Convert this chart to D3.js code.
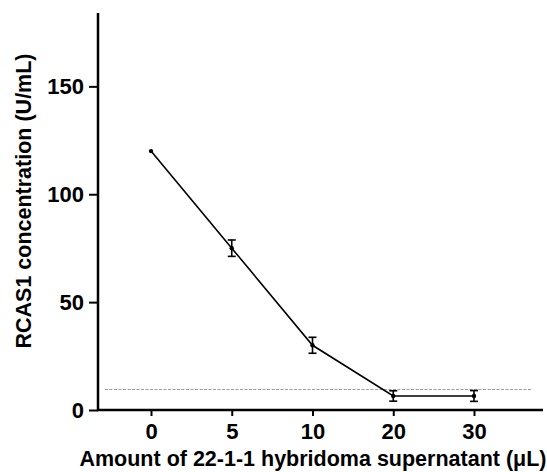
<!DOCTYPE html>
<html>
<head>
<meta charset="utf-8">
<script src="https://cdn.jsdelivr.net/npm/d3@7"></script>
<style>
  body { margin: 0; background: #fff; }
  text { font-family: "Liberation Sans", Arial, sans-serif; font-weight: bold; }
</style>
</head>
<body>
<svg></svg>
<script>
let width = 547
let height = 472

// data
let doses = ['0', '5', '10', '20', '30']
let means = [120, 75, 30, 6.5, 6.5]
let errors = [0, 3.8, 3.7, 2.4, 2.5]
let cutoff = 9.5
let yTicks = [0, 50, 100, 150]

let x = d3.scalePoint()
          .domain(doses)
          .range([151, 474])

let y = d3.scaleLinear()
          .domain([0, 184])
          .range([410, 13])

let svg = d3.select('svg')
    .attr('width', width)
    .attr('height', height)

let points = doses.map((d, i) => ({dose: d, mean: means[i], err: errors[i]}))

// cutoff line
svg.append('line')
    .attr('x1', 105)
    .attr('x2', 531)
    .attr('y1', y(cutoff))
    .attr('y2', y(cutoff))
    .attr('stroke', '#9a9a9a')
    .attr('stroke-width', 1)
    .attr('stroke-dasharray', '3,1.5')

// y axis
let yAxis = svg.append('g')
    .attr('transform', 'translate(98,0)')
    .call(d3.axisLeft(y).tickValues(yTicks).tickSize(9).tickPadding(5))

yAxis.select('.domain')
    .attr('d', `M0,${y(184)}V${y(0)}`)
    .attr('stroke-width', 2.5)
yAxis.selectAll('.tick line').attr('stroke-width', 2)
yAxis.selectAll('.tick text')
    .attr('font-size', 22)
    .attr('font-family', '"Liberation Sans", Arial, sans-serif')
    .attr('font-weight', 'bold')
    .attr('fill', '#000')

// x axis
let xAxis = svg.append('g')
    .attr('transform', `translate(0,${y(0)})`)
    .call(d3.axisBottom(x).tickSize(6).tickPadding(7))

xAxis.select('.domain')
    .attr('d', 'M97,0H543')
    .attr('stroke-width', 2.5)
xAxis.selectAll('.tick line').attr('stroke-width', 2)
xAxis.selectAll('.tick text')
    .attr('font-size', 22)
    .attr('font-family', '"Liberation Sans", Arial, sans-serif')
    .attr('font-weight', 'bold')
    .attr('fill', '#000')

// line
let line = d3.line()
    .x(d => x(d.dose))
    .y(d => y(d.mean))

svg.append('path')
    .datum(points)
    .attr('d', line)
    .attr('fill', 'none')
    .attr('stroke', '#000')
    .attr('stroke-width', 1.6)

// error bars
let bars = svg.selectAll('.err')
  .data(points.filter(d => d.err > 0))
  .enter()
  .append('g')
    .classed('err', true)
    .attr('stroke', '#000')
    .attr('stroke-width', 1.6)

bars.append('line')
    .attr('x1', d => x(d.dose))
    .attr('x2', d => x(d.dose))
    .attr('y1', d => y(d.mean - d.err))
    .attr('y2', d => y(d.mean + d.err))

bars.append('line')
    .attr('x1', d => x(d.dose) - 4)
    .attr('x2', d => x(d.dose) + 4)
    .attr('y1', d => y(d.mean + d.err))
    .attr('y2', d => y(d.mean + d.err))

bars.append('line')
    .attr('x1', d => x(d.dose) - 4)
    .attr('x2', d => x(d.dose) + 4)
    .attr('y1', d => y(d.mean - d.err))
    .attr('y2', d => y(d.mean - d.err))

// points
svg.selectAll('.dot')
  .data(points)
  .enter()
  .append('circle')
    .classed('dot', true)
    .attr('cx', d => x(d.dose))
    .attr('cy', d => y(d.mean))
    .attr('r', 2.2)
    .attr('fill', '#000')

// axis titles
svg.append('text')
    .attr('x', 313)
    .attr('y', 466)
    .attr('text-anchor', 'middle')
    .attr('font-size', 21.5)
    .text('Amount of 22-1-1 hybridoma supernatant (μL)')

svg.append('text')
    .attr('transform', 'translate(31,201) rotate(-90)')
    .attr('text-anchor', 'middle')
    .attr('font-size', 21.5)
    .text('RCAS1 concentration (U/mL)')
</script>
</body>
</html>
